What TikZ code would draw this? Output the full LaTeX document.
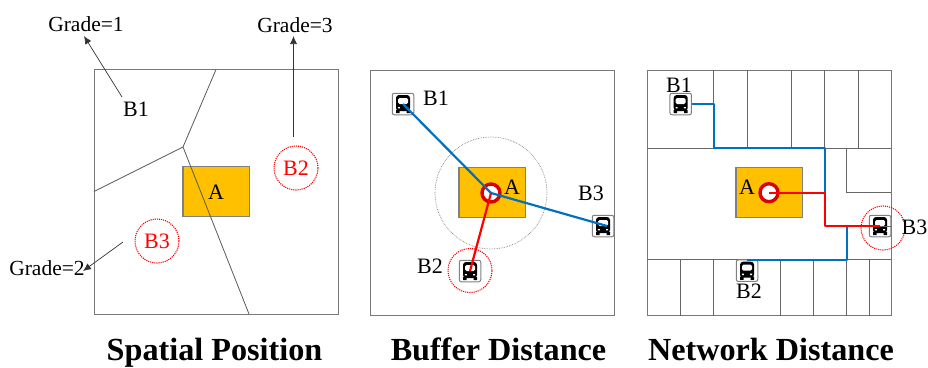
\documentclass[tikz,border=0pt]{standalone}
\usepackage{fontspec}
\setmainfont{Liberation Serif}
\usetikzlibrary{arrows.meta}
\definecolor{amber}{RGB}{255,192,0}
\definecolor{netblue}{RGB}{0,112,192}
\definecolor{framegray}{RGB}{120,120,120}
\tikzset{
  frame/.style={draw=framegray,line width=1pt},
  road/.style={draw=black!65,line width=.8pt},
  cell/.style={draw=black!60,line width=1pt},
  site/.style={draw=black!50,fill=amber,line width=1.1pt,minimum width=66.5pt,minimum height=50pt,inner sep=0pt},
  lbl/.style={font=\fontsize{22}{22}\selectfont,inner sep=0pt},
  grade/.style={font=\fontsize{21.5}{21.5}\selectfont,inner sep=0pt},
  ttl/.style={font=\fontsize{32.2}{32.2}\selectfont\bfseries,inner sep=0pt,anchor=base},
  redcirc/.style={circle,draw=red,densely dotted,line width=1.1pt,minimum size=44pt,inner sep=0pt},
  ring/.style={circle,draw=red!85!black,fill=white,line width=3.4pt,minimum size=18pt,inner sep=0pt},
  arr/.style={-{Latex[length=8pt,width=7pt]},draw=black!80,line width=.7pt},
  blueln/.style={draw=netblue,line width=2.2pt,line join=round},
  redln/.style={draw=red,line width=2.2pt,line join=round},
  busbox/.style={rounded corners=2pt,draw=black!50,fill=white,line width=1pt,minimum size=21.5pt,inner sep=0pt},
  buspic/.pic={
    \fill[black,rounded corners=3pt] (-7,-9) rectangle (7,7);
    \fill[black] (-7,6) rectangle (-3.5,9.2) (3.5,6) rectangle (7,9.2);
    \fill[white,rounded corners=1.5pt] (-5,-6) rectangle (5,0);
    \fill[white] (-5.2,3) rectangle (-3.2,4.4) (3.2,3) rectangle (5.2,4.4);
  }
}
\begin{document}
\begin{tikzpicture}[x=1pt,y=-1pt]
\useasboundingbox (0,0) rectangle (928,367);
% ---- panel 1
\node[frame,minimum width=244pt,minimum height=244.5pt,inner sep=0pt] (f1) at (216,191.75) {};
\node[site] (a1) at (216.25,191.75) {};
\coordinate (v0) at (183,147);
\coordinate (v1) at (216,69.5);
\coordinate (v2) at (94,191.5);
\coordinate (v3) at (249,314);
\draw[road] (v1) -- (v0) (v2) -- (v0) -- (v3);
\node[lbl] at (216,192) {A};
\node[lbl] (p1b1) at (136,109) {B1};
\node[redcirc] (p1b2) at (296,168) {};
\node[lbl,text=red] at (p1b2) {B2};
\node[redcirc] (p1b3) at (157,241) {};
\node[lbl,text=red] at (p1b3) {B3};
\node[grade] (g1) at (86,24) {Grade=1};
\node[grade] (g3) at (295,25) {Grade=3};
\node[grade] (g2) at (47,268) {Grade=2};
\coordinate (s1) at (122,97); \coordinate (t1) at (84,36);
\coordinate (s3) at (293.5,137); \coordinate (t3) at (293.5,36);
\coordinate (s2) at (123,242); \coordinate (t2) at (83,271);
\draw[arr] (s1) -- (t1);
\draw[arr] (s3) -- (t3);
\draw[arr] (s2) -- (t2);
\node[ttl] (t1x) at (214.5,360) {Spatial Position};
% ---- panel 2
\node[frame,minimum width=244pt,minimum height=245pt,inner sep=0pt] (f2) at (492,192.5) {};
\node[site] (a2) at (492.25,192.75) {};
\node[circle,draw=black!50,densely dotted,line width=.7pt,minimum size=112pt,inner sep=0pt] (buf) at (491,193) {};
\node[redcirc] (c2) at (470,270.5) {};
\node[busbox] (i1) at (403,104) {}; \pic at (i1) {buspic};
\node[busbox] (i2) at (470,271) {}; \pic at (i2) {buspic};
\node[busbox] (i3) at (603,226) {}; \pic at (i3) {buspic};
\node[ring] (r2) at (491,193) {};
\coordinate (e3) at (607,226);
\draw[blueln] (i1.center) -- (r2.center) -- (e3);
\draw[redln] (r2.center) -- (i2.center);
\node[lbl] at (512,187) {A};
\node[lbl] at (436,98) {B1};
\node[lbl] at (430,266) {B2};
\node[lbl] at (591,193) {B3};
\node[ttl] (t2x) at (498.5,360) {Buffer Distance};
% ---- panel 3
\node[frame,minimum width=243.7pt,minimum height=245.7pt,inner sep=0pt] (f3) at (769.2,193) {};
\draw[cell] (647.3,148.3) -- (891,148.3) (647.3,259.7) -- (891,259.7);
\foreach \x in {713.7,747.3,791.7,824.7,858} \draw[cell] (\x,70) -- (\x,148.3);
\foreach \x in {680.7,713.7,780.3,813.3,846.7,869} \draw[cell] (\x,259.7) -- (\x,316);
\draw[cell] (846.7,148.3) -- (846.7,192.7) -- (891,192.7);
\node[site] (a3) at (769.2,192.8) {};
\node[redcirc] (c3) at (883,228) {};
\node[busbox] (j1) at (680.7,104) {}; \pic at (j1) {buspic};
\node[busbox] (j2) at (747,270.7) {}; \pic at (j2) {buspic};
\node[busbox] (j3) at (880,226) {}; \pic at (j3) {buspic};
\node[ring] (r3) at (769,192.7) {};
\coordinate (n1) at (713.7,104); \coordinate (n2) at (713.7,148.3);
\coordinate (n3) at (824.7,148.3); \coordinate (n4) at (824.7,192.7);
\coordinate (n5) at (824.7,226); \coordinate (n6) at (846.7,226);
\coordinate (n7) at (846.7,259.7); \coordinate (n8) at (747,259.7);
\coordinate (n9) at (891,226);
\draw[blueln] (j1.east) -- (n1) -- (n2) -- (n3) -- (n4);
\draw[blueln] (n8) -- (n7) -- (n6);
\draw[cell] (j3.center) -- (n9);
\draw[redln] (r3.center) -- (n4) -- (n5) -- (j3.center);
\node[lbl] at (747,187) {A};
\node[lbl] at (679,85) {B1};
\node[lbl] at (749,291) {B2};
\node[lbl,anchor=east] at (927.5,227) {B3};
\node[ttl] (t3x) at (771,360) {Network Distance};
\end{tikzpicture}
\end{document}
